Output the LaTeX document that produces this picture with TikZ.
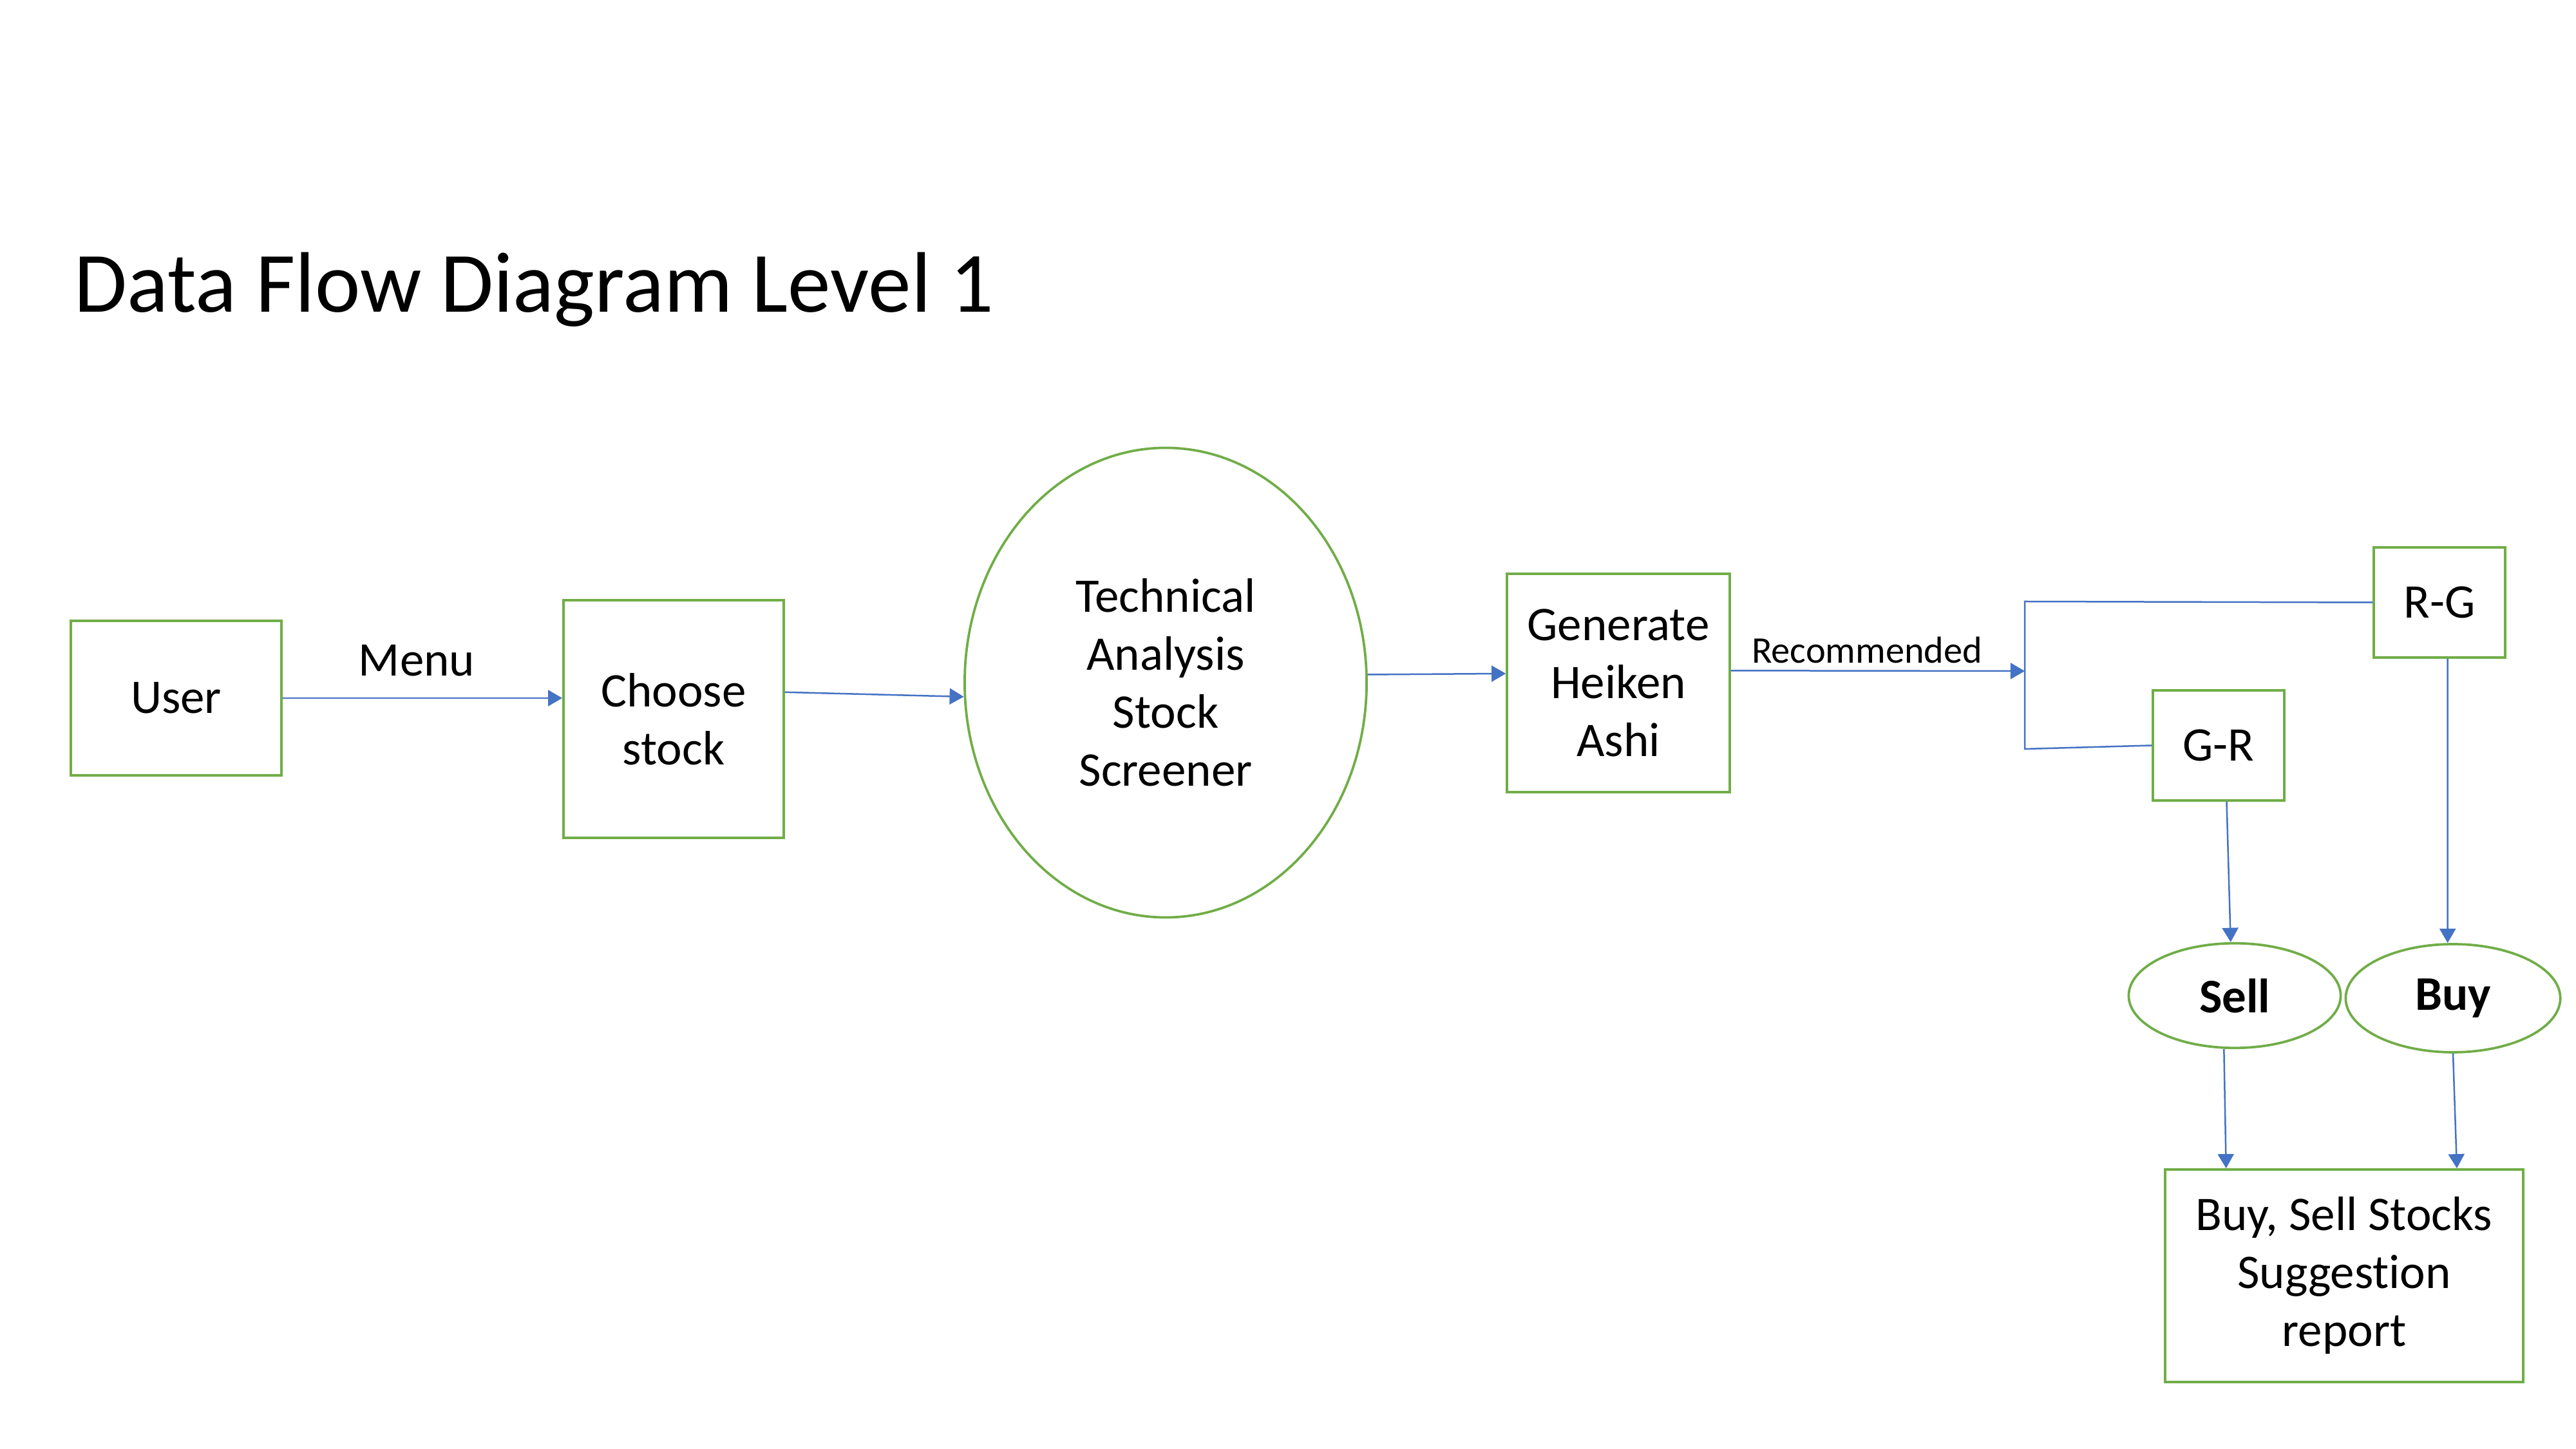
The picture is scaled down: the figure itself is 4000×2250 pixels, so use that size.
\documentclass[tikz,border=0pt]{standalone}
\usepackage{fontspec}
\setmainfont{Carlito}[Ligatures=NoCommon]
\usetikzlibrary{arrows.meta,shapes.geometric}
\definecolor{boxgreen}{HTML}{70AD47}
\definecolor{flowblue}{HTML}{4472C4}
\tikzset{
  procbox/.style={draw=boxgreen, line width=0.9pt, rectangle, inner sep=0pt, align=center,
    font=\fontsize{18}{21.6}\selectfont},
  procell/.style={draw=boxgreen, line width=0.9pt, ellipse, inner sep=0pt, align=center,
    font=\fontsize{18}{21.6}\selectfont},
  flow/.style={draw=flowblue, line width=0.6pt, -{Triangle[length=5.3pt,width=6pt]}},
  plainflow/.style={draw=flowblue, line width=0.6pt},
  lbl/.style={font=\fontsize{18}{21.6}\selectfont, anchor=base, inner sep=0pt}
}
\begin{document}
\begin{tikzpicture}[x=0.24pt,y=-0.24pt]
\useasboundingbox (0,0) rectangle (4000,2250);
\fill[white] (0,0) rectangle (4000,2250);

\node[anchor=base west, inner sep=0pt, font=\fontsize{32}{38}\selectfont] (title) at (115,485) {Data Flow Diagram Level 1};

\node[procbox, minimum width=78.5pt, minimum height=57.6pt] (user) at (273.5,1084) {User};
\node[procbox, minimum width=82.1pt, minimum height=88.6pt] (choose) at (1046,1116.5) {Choose\\stock};
\node[procell, minimum width=149.8pt, minimum height=175pt] (tas) at (1810,1060) {Technical\\Analysis\\Stock\\Screener};
\node[procbox, minimum width=83pt, minimum height=81.4pt] (gen) at (2513,1060.5) {Generate\\Heiken\\Ashi};
\node[procbox, minimum width=49pt, minimum height=41pt] (rg) at (3788,935.5) {R-G};
\node[procbox, minimum width=49pt, minimum height=41pt] (gr) at (3445,1157.5) {G-R};
\node[procell, minimum width=79pt, minimum height=39pt, font=\fontsize{18}{21.6}\selectfont\bfseries] (sell) at (3470,1546) {Sell};
\node[procell, minimum width=80pt, minimum height=40.3pt, font=\fontsize{18}{21.6}\selectfont\bfseries] (buy) at (3809,1550) {Buy};
\node[procbox, minimum width=133.4pt, minimum height=79.2pt] (report) at (3640,1981) {Buy, Sell Stocks\\Suggestion\\report};

\node[lbl] (menu) at (647,1050) {Menu};
\node[lbl, font=\fontsize{14}{16.8}\selectfont] (rec) at (2899,1030) {Recommended};

\coordinate (brkMid) at (3144,1042);
\coordinate (brkTop) at (3144,934);
\coordinate (brkBot) at (3144,1163);

\draw[flow] (user.east) -- (choose.west |- user.east);
\draw[flow] ([yshift=10pt]choose.east) -- (tas.184);
\draw[flow] ([yshift=3pt]tas.east) -- ([yshift=3.5pt]gen.west);
\draw[flow] ([yshift=4.6pt]gen.east) -- (brkMid);
\draw[plainflow] (rg.west) -- (brkTop) -- (brkBot) -- (gr.west);
\draw[flow] ([xshift=3pt]gr.south) -- ([xshift=-1.5pt]sell.north);
\draw[flow] ([xshift=3pt]rg.south) -- ([xshift=-2pt]buy.north);
\draw[flow] ([xshift=-4pt]sell.south) -- ([xshift=-44pt]report.north);
\draw[flow] (buy.south) -- ([xshift=42pt]report.north);
\end{tikzpicture}
\end{document}
